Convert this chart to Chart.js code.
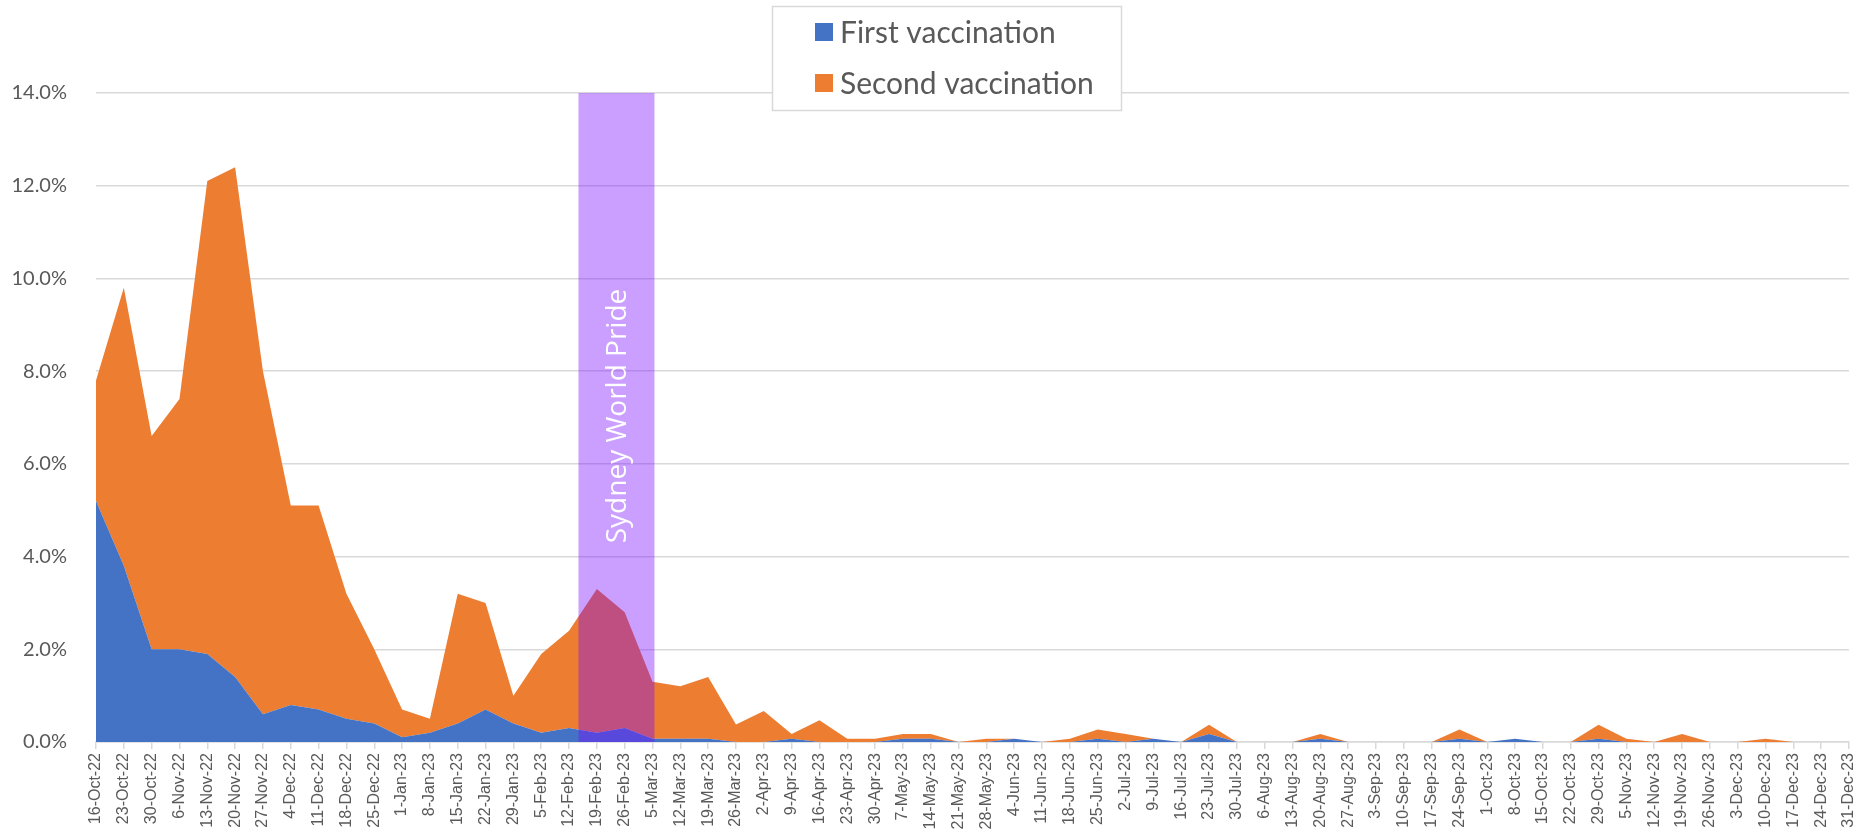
<!DOCTYPE html>
<html>
<head>
<meta charset="utf-8">
<script src="https://cdn.jsdelivr.net/npm/chart.js@4.4.1/dist/chart.umd.min.js"></script>
<style>
  html, body { margin: 0; padding: 0; background: #ffffff; }
  #wrap { width: 1863px; height: 837px; position: relative; }
</style>
</head>
<body>
<div id="wrap"><canvas id="c" width="1863" height="837"></canvas></div>
<script>
const weekLabels = [
  '16-Oct-22','23-Oct-22','30-Oct-22','6-Nov-22','13-Nov-22','20-Nov-22','27-Nov-22',
  '4-Dec-22','11-Dec-22','18-Dec-22','25-Dec-22','1-Jan-23','8-Jan-23','15-Jan-23',
  '22-Jan-23','29-Jan-23','5-Feb-23','12-Feb-23','19-Feb-23','26-Feb-23','5-Mar-23',
  '12-Mar-23','19-Mar-23','26-Mar-23','2-Apr-23','9-Apr-23','16-Apr-23','23-Apr-23',
  '30-Apr-23','7-May-23','14-May-23','21-May-23','28-May-23','4-Jun-23','11-Jun-23',
  '18-Jun-23','25-Jun-23','2-Jul-23','9-Jul-23','16-Jul-23','23-Jul-23','30-Jul-23',
  '6-Aug-23','13-Aug-23','20-Aug-23','27-Aug-23','3-Sep-23','10-Sep-23','17-Sep-23',
  '24-Sep-23','1-Oct-23','8-Oct-23','15-Oct-23','22-Oct-23','29-Oct-23','5-Nov-23',
  '12-Nov-23','19-Nov-23','26-Nov-23','3-Dec-23','10-Dec-23','17-Dec-23','24-Dec-23',
  '31-Dec-23'
];

// Percentages (%)
const firstVaccination = [
  5.2, 3.8, 2.0, 2.0, 1.9, 1.4, 0.6,
  0.8, 0.7, 0.5, 0.4, 0.1, 0.2, 0.4,
  0.7, 0.4, 0.2, 0.3, 0.2, 0.3, 0.07,
  0.07, 0.07, 0, 0, 0.07, 0, 0,
  0, 0.07, 0.07, 0, 0, 0.07, 0,
  0, 0.07, 0, 0.07, 0, 0.17, 0,
  0, 0, 0.07, 0, 0, 0, 0,
  0.07, 0, 0.07, 0, 0, 0.07, 0,
  0, 0, 0, 0, 0, 0, 0,
  0
];

const secondVaccination = [
  2.6, 6.0, 4.6, 5.4, 10.2, 11.0, 7.4,
  4.3, 4.4, 2.7, 1.6, 0.6, 0.3, 2.8,
  2.3, 0.6, 1.7, 2.1, 3.1, 2.5, 1.23,
  1.13, 1.33, 0.38, 0.67, 0.1, 0.47, 0.07,
  0.07, 0.1, 0.1, 0, 0.07, 0, 0,
  0.07, 0.2, 0.17, 0, 0, 0.2, 0,
  0, 0, 0.1, 0, 0, 0, 0,
  0.2, 0, 0, 0, 0, 0.3, 0.07,
  0, 0.17, 0, 0, 0.07, 0, 0,
  0
];

const yTicks = [0, 2, 4, 6, 8, 10, 12, 14];

// Event band (category index positions) and its label
const prideLabel = 'Sydney World Pride';
const prideStart = 17.34;
const prideEnd = 20.07;

const GRID = '#d9d9d9';
const TEXT = '#595959';

const prideBand = {
  id: 'prideBand',
  afterDatasetsDraw(chart) {
    const { ctx, scales } = chart;
    const x0 = scales.x.getPixelForValue(prideStart);
    const x1 = scales.x.getPixelForValue(prideEnd);
    const yTop = scales.y.getPixelForValue(yTicks[yTicks.length - 1]);
    const yBot = scales.y.getPixelForValue(0);
    ctx.save();
    ctx.fillStyle = 'rgba(122, 8, 255, 0.39)';
    ctx.fillRect(x0, yTop, x1 - x0, yBot - yTop);
    ctx.translate((x0 + x1) / 2 + 2, 416);
    ctx.rotate(-Math.PI / 2);
    ctx.fillStyle = '#ffffff';
    ctx.font = '400 28px "Open Sans", "Noto Sans", sans-serif';
    ctx.textAlign = 'center';
    ctx.textBaseline = 'middle';
    ctx.fillText(prideLabel, 0, 0);
    ctx.restore();
  }
};

const boxLegend = {
  id: 'boxLegend',
  afterDraw(chart) {
    const { ctx } = chart;
    const bx = 772, by = 6, bw = 349, bh = 104;
    ctx.save();
    ctx.fillStyle = '#ffffff';
    ctx.fillRect(bx, by, bw, bh);
    ctx.strokeStyle = GRID;
    ctx.lineWidth = 1.5;
    ctx.strokeRect(bx + 0.5, by + 0.5, bw, bh);
    ctx.font = '30px Lato, "Open Sans", sans-serif';
    ctx.textBaseline = 'middle';
    ctx.textAlign = 'left';
    const rows = [32, 83];
    chart.data.datasets.forEach((ds, i) => {
      const cy = rows[i];
      ctx.fillStyle = ds.backgroundColor;
      ctx.fillRect(815, cy - 9, 18, 18);
      ctx.fillStyle = TEXT;
      ctx.fillText(ds.label, 840, cy + 1);
    });
    ctx.restore();
  }
};

new Chart(document.getElementById('c'), {
  type: 'line',
  data: {
    labels: weekLabels,
    datasets: [
      {
        label: 'First vaccination',
        data: firstVaccination,
        backgroundColor: '#4472C4',
        borderColor: '#4472C4',
        borderWidth: 0,
        pointRadius: 0,
        tension: 0,
        fill: 'origin'
      },
      {
        label: 'Second vaccination',
        data: secondVaccination,
        backgroundColor: '#ED7D31',
        borderColor: '#ED7D31',
        borderWidth: 0,
        pointRadius: 0,
        tension: 0,
        fill: '-1'
      }
    ]
  },
  options: {
    responsive: false,
    animation: false,
    events: [],
    layout: { padding: { top: 93, right: 14, left: 0, bottom: 0 } },
    plugins: {
      legend: { display: false },
      tooltip: { enabled: false },
      title: { display: false }
    },
    scales: {
      x: {
        offset: false,
        grid: {
          display: true,
          drawOnChartArea: false,
          drawTicks: true,
          tickLength: 7,
          color: GRID,
          lineWidth: 1.5
        },
        border: { display: true, color: GRID, width: 1.5 },
        ticks: {
          autoSkip: false,
          minRotation: 90,
          maxRotation: 90,
          padding: 4,
          color: TEXT,
          font: { family: '"Liberation Sans", Arial, sans-serif', size: 16 }
        },
        afterFit(scale) {
          scale.height = 95;
          scale.paddingLeft = 0;
          scale.paddingRight = 0;
        }
      },
      y: {
        stacked: true,
        min: 0,
        max: 14,
        grid: {
          color: GRID,
          lineWidth: 1.5,
          drawTicks: false
        },
        border: { display: false },
        afterBuildTicks(scale) {
          scale.ticks = yTicks.map(v => ({ value: v }));
        },
        ticks: {
          padding: 29,
          color: TEXT,
          font: { family: 'Lato, "Open Sans", sans-serif', size: 20 },
          callback: (v) => Number(v).toFixed(1) + '%'
        },
        afterFit(scale) { scale.width = 96; }
      }
    }
  },
  plugins: [prideBand, boxLegend]
});
</script>
</body>
</html>
